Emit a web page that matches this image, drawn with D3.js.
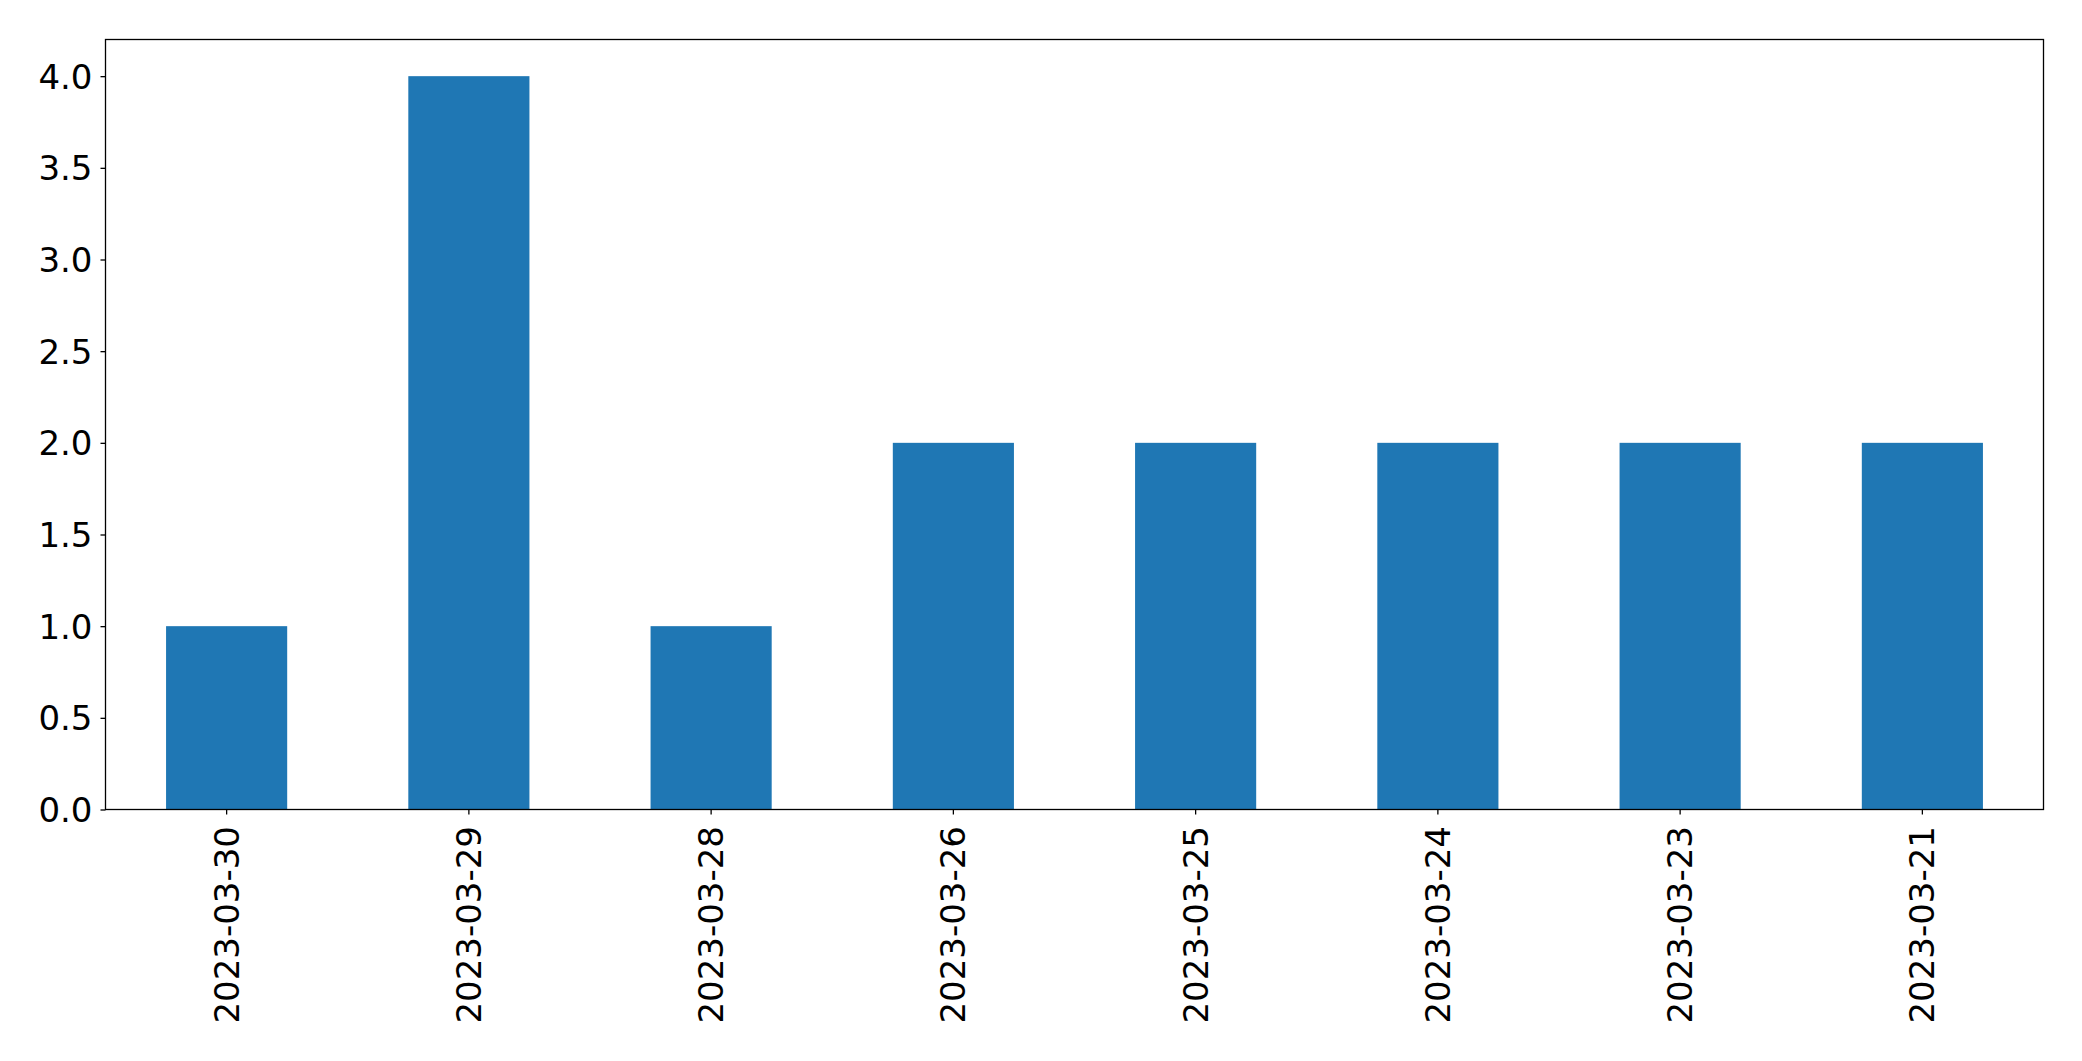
<!DOCTYPE html>
<html><head><meta charset="utf-8">
<script src="https://cdn.jsdelivr.net/npm/d3@7"></script>
<style>body{margin:0;background:#fff}svg{display:block}text{font-family:"DejaVu Sans",sans-serif;fill:#000}</style>
</head><body>
<script>
const categories = ["2023-03-30","2023-03-29","2023-03-28","2023-03-26","2023-03-25","2023-03-24","2023-03-23","2023-03-21"];
const values = [1,4,1,2,2,2,2,2];
const yTicks = [0,0.5,1.0,1.5,2.0,2.5,3.0,3.5,4.0];

const W=2082,H=1061;
const m={left:105.5,right:2043.5,top:39.5,bottom:809.5};
const svg=d3.select("body").append("svg").attr("width",W).attr("height",H);
const x=d3.scaleBand().domain(categories).range([m.left,m.right]).paddingInner(0.5).paddingOuter(0.25);
const y=d3.scaleLinear().domain([0,4.2]).range([m.bottom,m.top]);

svg.append("g").selectAll("rect").data(values).join("rect")
 .attr("x",(d,i)=>x(categories[i])).attr("width",x.bandwidth())
 .attr("y",d=>y(d)).attr("height",d=>y(0)-y(d)).attr("fill","#1f77b4");

const fs=34;
const ya=svg.append("g").attr("transform",`translate(${m.left},0)`)
 .call(d3.axisLeft(y).tickValues(yTicks).tickFormat(d3.format(".1f")).tickSize(5).tickPadding(8));
ya.select(".domain").remove();
ya.selectAll("text").style("font-size",fs+"px").attr("dy","0.35em");
ya.selectAll("line").attr("stroke","#000").attr("stroke-width",1.3);

const xa=svg.append("g").attr("transform",`translate(0,${m.bottom})`)
 .call(d3.axisBottom(x).tickSize(5).tickPadding(8));
xa.select(".domain").remove();
xa.selectAll("line").attr("stroke","#000").attr("stroke-width",1.3);
xa.selectAll("text").style("font-size",fs+"px")
 .attr("transform","rotate(-90)").attr("text-anchor","end")
 .attr("x",-16.5).attr("y",0).attr("dy","0.35em");

svg.append("rect").attr("x",m.left).attr("y",m.top).attr("width",m.right-m.left).attr("height",m.bottom-m.top)
 .attr("fill","none").attr("stroke","#000").attr("stroke-width",1.3);
</script>
</body></html>
